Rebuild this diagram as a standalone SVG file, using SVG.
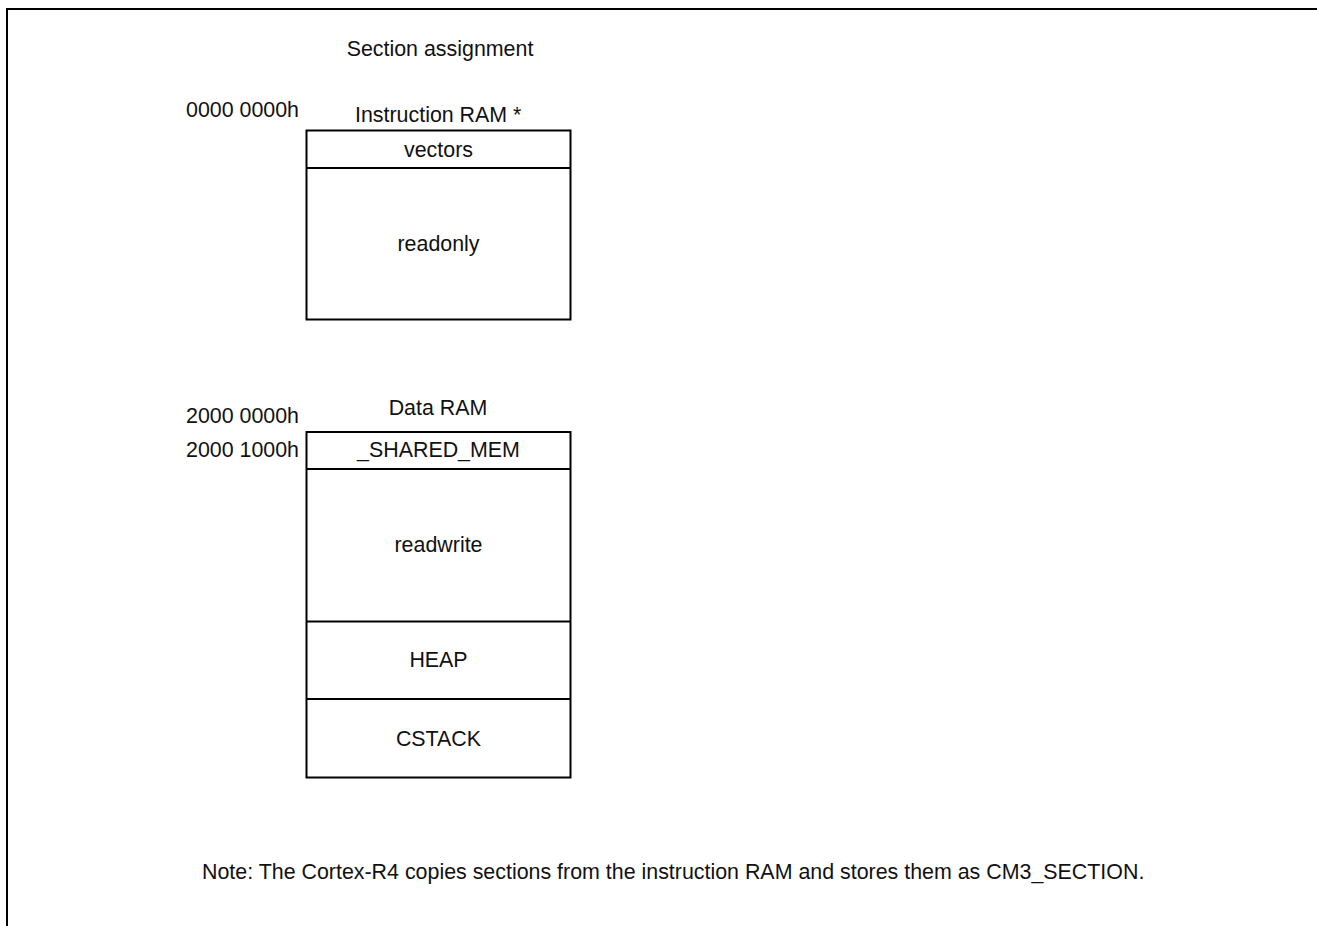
<svg xmlns="http://www.w3.org/2000/svg" width="1317" height="926" viewBox="0 0 1317 926">
  <style>
    text { font-family: "Liberation Sans", Arial, sans-serif; font-size: 21.4px; fill: #111; }
    .c { text-anchor: middle; }
    .r { text-anchor: end; }
    .box { fill: #fff; stroke: #000; stroke-width: 2; }
    .div { stroke: #000; stroke-width: 2; fill: none; }
    .frame { stroke: #000; stroke-width: 2; fill: none; }
  </style>
  <rect width="1317" height="926" fill="#fff"/>
  <!-- page frame, open on the right and bottom -->
  <path class="frame" d="M7 926 V9 H1317"/>

  <text id="title" class="c" x="440" y="55.5">Section assignment</text>

  <!-- instruction memory map -->
  <g id="instruction-ram">
    <text class="r" x="299" y="117">0000 0000h</text>
    <text x="355" y="122">Instruction RAM *</text>
    <rect class="box" x="306.5" y="130.5" width="264" height="189"/>
  </g>
  <g id="vectors">
    <text class="c" x="438.5" y="156.5">vectors</text>
  </g>
  <g id="readonly">
    <line class="div" x1="306.5" y1="168" x2="570.5" y2="168"/>
    <text class="c" x="438.5" y="251">readonly</text>
  </g>

  <!-- data memory map -->
  <g id="data-ram">
    <text class="c" x="438" y="415">Data RAM</text>
    <text class="r" x="299" y="423">2000 0000h</text>
    <text class="r" x="299" y="457">2000 1000h</text>
    <rect class="box" x="306.5" y="432" width="264" height="345.5"/>
  </g>
  <g id="shared-mem">
    <text class="c" x="438.5" y="457">_SHARED_MEM</text>
  </g>
  <g id="readwrite">
    <line class="div" x1="306.5" y1="469" x2="570.5" y2="469"/>
    <text class="c" x="438.5" y="552">readwrite</text>
  </g>
  <g id="heap">
    <line class="div" x1="306.5" y1="621.5" x2="570.5" y2="621.5"/>
    <text class="c" x="438.5" y="667">HEAP</text>
  </g>
  <g id="cstack">
    <line class="div" x1="306.5" y1="699" x2="570.5" y2="699"/>
    <text class="c" x="438.5" y="746">CSTACK</text>
  </g>

  <g id="connectors"/>

  <text id="note" x="202" y="879">Note: The Cortex-R4 copies sections from the instruction RAM and stores them as CM3_SECTION.</text>
</svg>
